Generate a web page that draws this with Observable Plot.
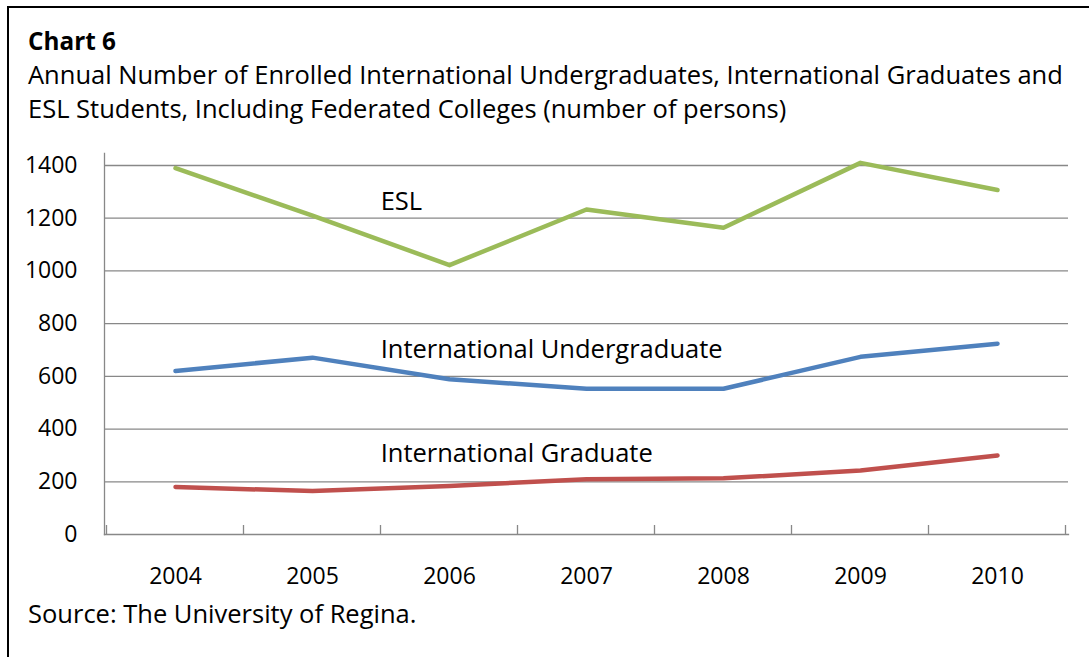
<!DOCTYPE html>
<html>
<head>
<meta charset="utf-8">
<script src="https://cdn.jsdelivr.net/npm/d3@7"></script>
<script src="https://cdn.jsdelivr.net/npm/@observablehq/plot@0.6"></script>
<style>
  html, body { margin: 0; padding: 0; background: #fff; }
  #wrap { position: relative; width: 1089px; height: 657px; overflow: hidden; background: #fff; font-family: "Open Sans", Lato, sans-serif; color: #000; }
  .frameL { position: absolute; left: 7px; top: 6px; width: 2px; height: 660px; background: #000; z-index: 5; }
  .frameT { position: absolute; left: 7px; top: 6px; width: 1090px; height: 2px; background: #000; z-index: 5; }
  .txt { position: absolute; left: 28px; white-space: nowrap; line-height: 34px; font-size: 25.5px; }
  #title { top: 24px; font-weight: bold; font-size: 24.3px; }
  #sub1 { top: 57px; }
  #sub2 { top: 91px; }
  #source { top: 596px; }
  #chart { position: absolute; left: 0; top: 140px; }
</style>
</head>
<body>
<div id="wrap">
  <div id="title" class="txt"></div>
  <div id="sub1" class="txt"></div>
  <div id="sub2" class="txt"></div>
  <div id="chart"></div>
  <div id="source" class="txt"></div>
  <div class="frameL"></div>
  <div class="frameT"></div>
</div>
<script>
// ---- data ----
const years = ["2004", "2005", "2006", "2007", "2008", "2009", "2010"];
const esl = [1390, 1210, 1022, 1233, 1164, 1410, 1307];
const undergrad = [620, 671, 589, 553, 553, 674, 724];
const graduate = [180, 165, 184, 210, 213, 243, 300];
const yTicks = [0, 200, 400, 600, 800, 1000, 1200, 1400];

const seriesNames = ["ESL", "International Undergraduate", "International Graduate"];
const seriesColors = ["#9BBB59", "#4F81BD", "#C0504D"];
// in-chart series labels (category where label starts, value at label centre)
const labelYears = ["2006", "2006", "2006"];
const labelValues = [1262, 702, 306];

const titleText = "Chart 6";
const subtitleLines = [
  "Annual Number of Enrolled International Undergraduates, International Graduates and",
  "ESL Students, Including Federated Colleges (number of persons)"
];
const sourceText = "Source: The University of Regina.";

// ---- build table ----
const seriesValues = [esl, undergrad, graduate];
const rows = [];
seriesNames.forEach((s, i) => years.forEach((yr, j) => rows.push({series: s, year: yr, value: seriesValues[i][j]})));
const labels = seriesNames.map((s, i) => ({series: s, year: labelYears[i], value: labelValues[i]}));

document.getElementById("title").textContent = titleText;
document.getElementById("sub1").textContent = subtitleLines[0];
document.getElementById("sub2").textContent = subtitleLines[1];
document.getElementById("source").textContent = sourceText;

const gray = "#888888";
const W = 1089, H = 460, mL = 104, mR = 21, mT = 13, mB = 66;
const step = (W - mL - mR) / years.length;

function bandTicks(index, scales, values, dimensions) {
  const x = scales.x;
  const st = x(years[1]) - x(years[0]);
  const y0 = dimensions.height - dimensions.marginBottom;
  const edges = years.map(y => x(y) - st / 2).concat([x(years[years.length - 1]) + st / 2]);
  const g = d3.create("svg:g");
  g.selectAll("line").data(edges).join("line")
    .attr("x1", d => d).attr("x2", d => d)
    .attr("y1", y0).attr("y2", y0 - 9)
    .attr("stroke", gray).attr("stroke-width", 1.3);
  return g.node();
}

const chart = Plot.plot({
  width: W, height: H,
  marginLeft: mL, marginRight: mR, marginTop: mT, marginBottom: mB,
  insetTop: 12,
  style: {fontFamily: "'Open Sans', Lato, sans-serif", fontSize: "23px", color: "#000", background: "transparent", overflow: "visible"},
  x: {type: "point", domain: years, padding: 0.5, label: null},
  y: {domain: [0, 1400], label: null},
  color: {domain: seriesNames, range: seriesColors},
  marks: [
    Plot.ruleY(yTicks.filter(d => d > 0), {stroke: gray, strokeWidth: 1.3}),
    Plot.frame({anchor: "left", stroke: gray, strokeWidth: 1.3}),
    Plot.frame({anchor: "bottom", stroke: gray, strokeWidth: 1.3}),
    bandTicks,
    Plot.axisY({ticks: yTicks, tickSize: 0, tickPadding: 27, tickFormat: d => String(d), fontSize: 23, fill: "#000"}),
    Plot.axisX({tickSize: 0, tickPadding: 33, fontSize: 23, fill: "#000"}),
    Plot.line(rows, {x: "year", y: "value", z: "series", stroke: "series", strokeWidth: 4.5, strokeLinecap: "round", strokeLinejoin: "round"}),
    Plot.text(labels, {x: "year", y: "value", text: "series", textAnchor: "start", dx: -step / 2, fontSize: 25.5, fill: "#000"})
  ]
});
document.getElementById("chart").appendChild(chart);
</script>
</body>
</html>
